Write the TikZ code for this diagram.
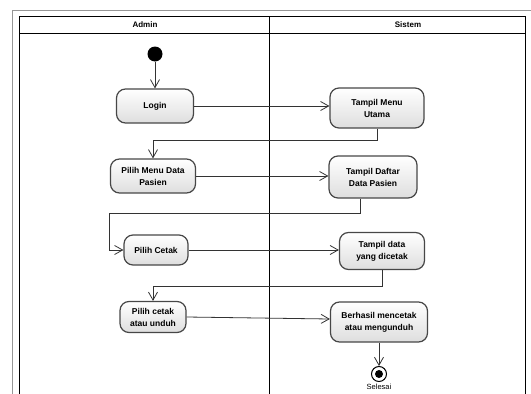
\documentclass[tikz,border=0pt]{standalone}
\usepackage{fontspec}
\setmainfont{Liberation Sans}
\usetikzlibrary{
  arrows.meta,
  calc
}
\definecolor{framegray}{RGB}{150,150,150}
\definecolor{boxshade}{RGB}{222,222,222}
\tikzset{
  flow/.style={-{Straight Barb[length=8pt,width=9pt]},draw=black!80,line width=.8pt},
  act/.style={
    draw=black!72,
    line width=1.2pt,
    rounded corners=9pt,
    top color=white,
    bottom color=boxshade,
    align=center,
    inner sep=2pt,
    font=\fontsize{8.5}{12}\selectfont\bfseries
  },
  lane/.style={draw=black,line width=.9pt},
  lanetitle/.style={font=\fontsize{8}{10}\selectfont\bfseries}
}

\begin{document}
\begin{tikzpicture}[x=1pt,y=-1pt]
  \useasboundingbox (0,0) rectangle (531,394);
  % frame and swimlanes
  \draw[framegray,line width=1pt] (12,10) rectangle (545,410);
  \draw[lane] (19,16) rectangle (525,410);
  \draw[lane] (19,33) -- (525,33);
  \draw[lane] (269,16) -- (269,410);
  \node[lanetitle] (admin) at (145,24.5) {Admin};
  \node[lanetitle] (sistem) at (408,24.5) {Sistem};

  % start
  \node[circle,fill=black,minimum size=15pt,inner sep=0pt] (start) at (155,54) {};

  % activities
  \node[act,minimum width=77pt,minimum height=34pt] (login) at (155,106) {Login};
  \node[act,minimum width=94pt,minimum height=40pt] (tmu) at (377,108) {Tampil Menu\\Utama};
  \node[act,minimum width=85pt,minimum height=34pt] (pmdp) at (153,176) {Pilih Menu Data\\Pasien};
  \node[act,minimum width=88pt,minimum height=42pt] (tddp) at (373,177) {Tampil Daftar\\Data Pasien};
  \node[act,minimum width=64pt,minimum height=30pt] (pc) at (156,250) {Pilih Cetak};
  \node[act,minimum width=85pt,minimum height=37pt] (tdyd) at (382,251) {Tampil data\\yang dicetak};
  \node[act,minimum width=66pt,minimum height=31pt] (pcu) at (153,317) {Pilih cetak\\atau unduh};
  \node[act,minimum width=97pt,minimum height=40pt] (bmam) at (379,322) {Berhasil mencetak\\atau mengunduh};

  % end
  \node[circle,draw=black,line width=1pt,fill=white,minimum size=15pt,inner sep=0pt] (stop) at (379,374) {};
  \node[circle,fill=black,minimum size=8pt,inner sep=0pt] (stopdot) at (stop) {};
  \node[font=\fontsize{7.5}{9}\selectfont,anchor=north] (selesai) at ([yshift=1pt]stop.south) {Selesai};

  % flows
  \draw[flow] (start) -- (login);
  \draw[flow] (login.east) -- (login.east -| tmu.west);
  \draw[flow] (tmu.south) -- ++(0,12) -| (pmdp.north);
  \draw[flow] (pmdp.east) -- (pmdp.east -| tddp.west);
  \draw[flow] ([xshift=-13pt]tddp.south) -- ++(0,15) -| ([xshift=-14pt]pc.west) -- (pc.west);
  \draw[flow] (pc.east) -- (pc.east -| tdyd.west);
  \draw[flow] (tdyd.south) -- ++(0,16) -| (pcu.north);
  \draw[flow] (pcu.east) -- ([yshift=3pt]bmam.west);
  \draw[flow] (bmam.south) -- (stop);
\end{tikzpicture}
\end{document}
